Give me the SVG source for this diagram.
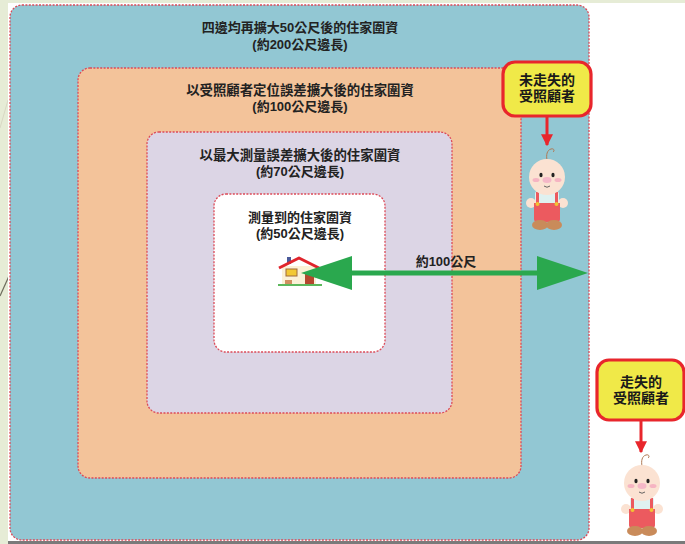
<svg xmlns="http://www.w3.org/2000/svg" width="685" height="544" viewBox="0 0 685 544">
  <style>
    .zone { stroke: #dc4a58; stroke-width: 1.3; stroke-dasharray: 2 1.4; }
    .title { font-family: "Liberation Sans", "Noto Sans CJK TC", "Noto Sans CJK SC", sans-serif; font-weight: 700; font-size: 13px; fill: #222; text-anchor: middle; }
    .callout rect { fill: #f0e948; stroke: #e8262c; stroke-width: 3.2; }
    .callout text { font-family: "Liberation Sans", "Noto Sans CJK TC", "Noto Sans CJK SC", sans-serif; font-weight: 700; font-size: 14px; fill: #1a1a1a; text-anchor: middle; }
    .pointer { stroke: #e8262c; stroke-width: 3; fill: none; }
    .range { stroke: #2aa84e; stroke-width: 5; fill: none; }
  </style>
  <defs>
    <marker id="redHead" viewBox="0 0 10 10" refX="9" refY="5" markerWidth="4" markerHeight="4" orient="auto" markerUnits="strokeWidth">
      <path d="M0,0 L10,5 L0,10 Z" fill="#e8262c"/>
    </marker>
    <!-- small cartoon person, origin at head centre -->
    <symbol id="person" overflow="visible">
      <path d="M0,-17 C-1,-22 0,-27 4,-28 C7,-29 8,-26 6,-25" fill="none" stroke="#b07a55" stroke-width="1"/>
      <rect x="-12" y="14" width="24" height="16" rx="3" fill="#dff1f0"/>
      <circle cx="-16" cy="26" r="5" fill="#fbe2d2"/>
      <circle cx="16" cy="26" r="5" fill="#fbe2d2"/>
      <path d="M-13,26 H13 V42 Q13,45 10,45 H-10 Q-13,45 -13,42 Z" fill="#ec5a5f"/>
      <rect x="-11" y="15" width="3" height="12" fill="#ec5a5f"/>
      <rect x="8" y="15" width="3" height="12" fill="#ec5a5f"/>
      <circle cx="-9.5" cy="27" r="2" fill="#f2c233"/>
      <circle cx="9.5" cy="27" r="2" fill="#f2c233"/>
      <ellipse cx="-7" cy="48" rx="8" ry="5" fill="#c98b5a"/>
      <ellipse cx="7" cy="48" rx="8" ry="5" fill="#c98b5a"/>
      <circle cx="0" cy="0" r="18" fill="#fbe2d2"/>
      <ellipse cx="-6" cy="-2" rx="1.6" ry="2.3" fill="#222"/>
      <ellipse cx="6" cy="-2" rx="1.6" ry="2.3" fill="#222"/>
      <ellipse cx="-11" cy="3" rx="3.5" ry="2" fill="#f6b4c2"/>
      <ellipse cx="11" cy="3" rx="3.5" ry="2" fill="#f6b4c2"/>
      <ellipse cx="0" cy="3" rx="4.5" ry="3" fill="#f5b8c8"/>
      <path d="M-3,9 Q0,11.5 3,9" fill="none" stroke="#555" stroke-width="0.9"/>
    </symbol>
  </defs>

  <!-- page background -->
  <rect x="0" y="0" width="685" height="544" fill="#e6ecd6"/>
  <path d="M0,128 L8,100" stroke="#d8d8c4" stroke-width="1"/>
  <path d="M0,296 L9,276" stroke="#6c6c5c" stroke-width="1.2"/>
  <rect x="8" y="3" width="677" height="538" fill="#ffffff"/>
  <rect x="8" y="541" width="677" height="3" fill="#7a7a7a"/>

  <!-- nested search zones -->
  <g id="zone-200m">
    <rect class="zone" x="10" y="5" width="579" height="535" rx="12" fill="#92c7d3"/>
    <text class="title" x="300" y="32">四邊均再擴大50公尺後的住家圍資</text>
    <text class="title" x="300" y="49">(約200公尺邊長)</text>
  </g>
  <g id="zone-100m">
    <rect class="zone" x="78" y="68" width="443" height="410" rx="12" fill="#f3c39a"/>
    <text class="title" x="300" y="95" style="font-size:13.4px">以受照顧者定位誤差擴大後的住家圍資</text>
    <text class="title" x="300" y="111">(約100公尺邊長)</text>
  </g>
  <g id="zone-70m">
    <rect class="zone" x="147" y="132" width="305" height="281" rx="12" fill="#dcd5e5"/>
    <text class="title" x="300" y="160" style="font-size:13.4px">以最大測量誤差擴大後的住家圍資</text>
    <text class="title" x="300" y="176">(約70公尺邊長)</text>
  </g>
  <g id="zone-50m">
    <rect class="zone" x="214" y="194" width="171" height="158" rx="12" fill="#ffffff"/>
    <text class="title" x="300" y="222">測量到的住家圍資</text>
    <text class="title" x="300" y="238">(約50公尺邊長)</text>
  </g>

  <!-- home icon -->
  <g id="home">
    <rect x="278" y="284" width="44" height="2" fill="#5cb85c"/>
    <rect x="287" y="257" width="4" height="7" fill="#4a5a9a"/>
    <rect x="282" y="266" width="34" height="18" fill="#fbf1d6"/>
    <path d="M279,268 L299,258 L319,268" fill="none" stroke="#e0242c" stroke-width="3" stroke-linejoin="round"/>
    <rect x="286" y="269" width="11" height="7" fill="#f2c833" stroke="#a06a3a" stroke-width="1"/>
    <rect x="305" y="272" width="9" height="12" fill="#b5472e"/>
    <rect x="285" y="280" width="7" height="4" fill="#d09060"/>
  </g>

  <!-- people and their labels -->
  <g id="person-not-lost">
    <g class="callout">
      <rect x="503" y="62" width="88" height="54" rx="12"/>
      <text x="547" y="85">未走失的</text>
      <text x="547" y="101">受照顧者</text>
    </g>
    <use href="#person" x="547" y="177"/>
  </g>
  <g id="person-lost">
    <g class="callout">
      <rect x="597" y="360" width="87" height="60" rx="12"/>
      <text x="641" y="387">走失的</text>
      <text x="641" y="403">受照顧者</text>
    </g>
    <use href="#person" x="642" y="483"/>
  </g>

  <!-- connectors -->
  <g id="connectors">
    <path class="pointer" d="M547,117 V145" marker-end="url(#redHead)"/>
    <path class="pointer" d="M641,421 V452" marker-end="url(#redHead)"/>
    <g id="distance">
      <path class="range" d="M345,273 H545"/>
      <path d="M301,273 L352,256 L352,290 Z" fill="#2aa84e"/>
      <path d="M588,273 L537,256 L537,290 Z" fill="#2aa84e"/>
      <text class="title" x="446" y="266">約100公尺</text>
    </g>
  </g>
</svg>
